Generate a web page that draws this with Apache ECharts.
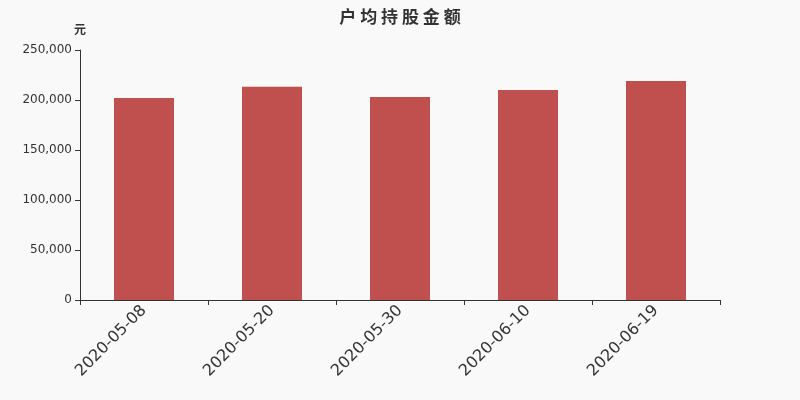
<!DOCTYPE html>
<html>
<head>
<meta charset="utf-8">
<script src="https://cdn.jsdelivr.net/npm/echarts@6/dist/echarts.min.js"></script>
<style>
    html, body {margin: 0; padding: 0; background: #f9f9f9;}
    #chart {width: 800px; height: 400px;}
</style>
</head>
<body>
<div id="chart"></div>
<script>
/**
 * 数据
 */
var categories = ['2020-05-08', '2020-05-20', '2020-05-30', '2020-06-10', '2020-06-19'];
var amountData = [202000, 213300, 203000, 210000, 219000];
var yTicks = [0, 50000, 100000, 150000, 200000, 250000];

/**
 * 渲染柱状图
 */
function renderHistogram() {
    var histogram = echarts.init(document.getElementById('chart'));// 初始化
    var option = {
        backgroundColor: '#f9f9f9',
        animation: false,
        title: {
            text: '户 均 持 股 金 额',
            left: 'center',
            top: 3,
            textStyle: {
                fontSize: 17,
                fontWeight: 'bold',
                color: '#333',
                fontFamily: 'Noto Sans CJK SC'
            }
        },
        grid: {
            left: 80,
            right: 80,
            top: 50,
            bottom: 100
        },
        xAxis: {
            type: 'category',
            data: categories,
            axisLine: {lineStyle: {color: '#333'}},
            axisTick: {show: true, alignWithLabel: false, lineStyle: {color: '#333'}},
            axisLabel: {
                rotate: 45,
                fontSize: 16,
                color: '#333',
                interval: 0,
                fontFamily: 'DejaVu Sans'
            }
        },
        yAxis: {
            type: 'value',
            name: '元',
            nameGap: 15,
            nameTextStyle: {
                color: '#333',
                fontSize: 12,
                fontWeight: 'bold',
                align: 'center',
                fontFamily: 'Noto Sans CJK SC'
            },
            min: yTicks[0],
            max: yTicks[yTicks.length - 1],
            interval: yTicks[1] - yTicks[0],
            axisLine: {show: true, lineStyle: {color: '#333'}},
            axisTick: {show: true, lineStyle: {color: '#333'}},
            splitLine: {show: false},
            axisLabel: {
                color: '#333',
                fontSize: 12,
                fontFamily: 'DejaVu Sans',
                formatter: function (v) {
                    return v.toLocaleString('en-US');
                }
            }
        },
        series: [{
            type: 'bar',
            data: amountData,
            barWidth: 60,
            itemStyle: {color: '#c0504d'}
        }]
    };
    histogram.setOption(option);
}

renderHistogram();
</script>
</body>
</html>
